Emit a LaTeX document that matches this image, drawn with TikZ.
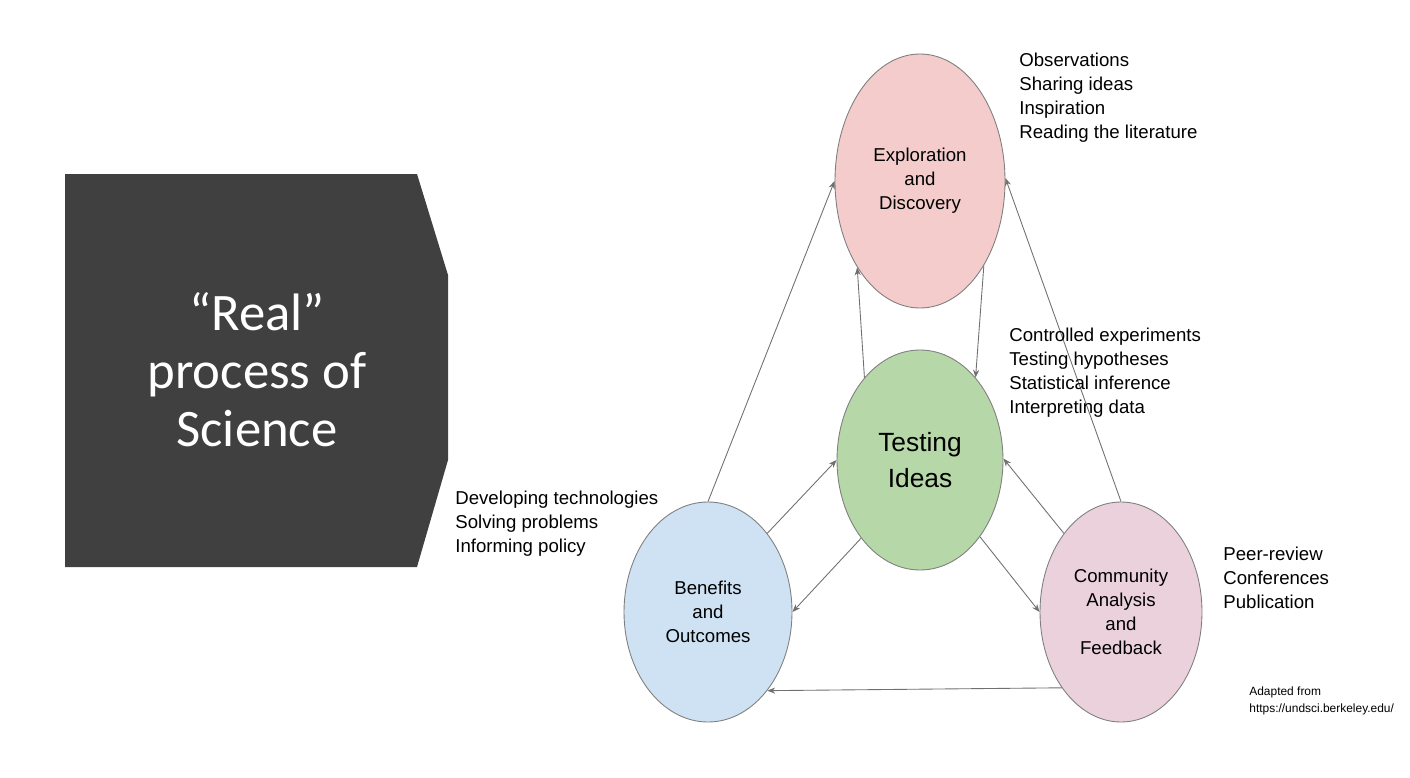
\documentclass[tikz,border=0pt]{standalone}
\usepackage{fontspec}
\setmainfont{Liberation Sans}
\newfontfamily\titlefont{Carlito}
\usepackage{xcolor}
\usepackage{tikz}
\usetikzlibrary{positioning,shapes.geometric,arrows.meta}

\definecolor{slate}{HTML}{404040}
\definecolor{edgegray}{HTML}{7F7F7F}
\definecolor{linegray}{HTML}{707070}
\definecolor{explfill}{HTML}{F4CCCC}
\definecolor{testfill}{HTML}{B6D7A8}
\definecolor{benefill}{HTML}{CFE2F3}
\definecolor{commfill}{HTML}{EAD1DC}

\begin{document}
\begin{tikzpicture}[
		every node/.style={font=\fontsize{10.6}{13.6}\selectfont},
		stage/.style={
				draw=edgegray,
				ellipse,
				inner sep=0pt,
				align=center,
				line width=0.5pt
			},
		note/.style={anchor=west, align=left, inner sep=0pt},
		arrow/.style={-{Stealth[length=4.5pt,width=3.5pt]}, draw=linegray, line width=0.5pt}
	]
	\useasboundingbox (0,0) rectangle (28.2,-15.56);

	% Title block on the left
	\fill[slate] (1.3,-3.48) -- (8.34,-3.48) -- (8.96,-5.5) -- (8.96,-9.2)
		-- (8.34,-11.34) -- (1.3,-11.34) -- cycle;
	\node[text=white, align=center, font=\titlefont\fontsize{30}{33}\selectfont] (title) at (5.14,-7.4)
		{“Real”\\process of\\Science};

	% The four stages
	\node[stage, fill=explfill, minimum width=3.4cm, minimum height=5.08cm] (explore) at (18.4,-3.62)
		{Exploration\\and\\Discovery};
	\node[stage, fill=testfill, minimum width=3.32cm, minimum height=4.4cm,
		font=\fontsize{15}{20.4}\selectfont] (testing) at (18.4,-9.2)
		{Testing\\Ideas};
	\node[stage, fill=benefill, minimum width=3.36cm, minimum height=4.4cm] (benefit) at (14.16,-12.24)
		{Benefits\\and\\Outcomes};
	\node[stage, fill=commfill, minimum width=3.24cm, minimum height=4.4cm] (community) at (22.42,-12.24)
		{Community\\Analysis\\and\\Feedback};

	% Connections
	\draw[arrow] (benefit.90) -- (explore.180);
	\draw[arrow] (testing.124) -- (explore.234);
	\draw[arrow] (explore.307) -- (testing.56);
	\draw[arrow] (community.90) -- (explore.2);
	\draw[arrow] (benefit.53) -- (testing.180);
	\draw[arrow] (testing.233) -- (benefit.0);
	\draw[arrow] (community.126) -- (testing.1);
	\draw[arrow] (testing.308) -- (community.180);
	\draw[arrow] (community.232) -- (benefit.307);

	% Side lists
	\node[note] (explnote) at (20.38,-1.95)
		{Observations\\Sharing ideas\\Inspiration\\Reading the literature};
	\node[note] (testnote) at (20.18,-7.46)
		{Controlled experiments\\Testing hypotheses\\Statistical inference\\Interpreting data};
	\node[note] (benenote) at (9.10,-10.47)
		{Developing technologies\\Solving problems\\Informing policy};
	\node[note] (commnote) at (24.46,-11.55)
		{Peer-review\\Conferences\\Publication};
	\node[note, font=\fontsize{6.8}{9.6}\selectfont] (source) at (24.98,-14.01)
		{Adapted from\\https://undsci.berkeley.edu/};
\end{tikzpicture}
\end{document}
